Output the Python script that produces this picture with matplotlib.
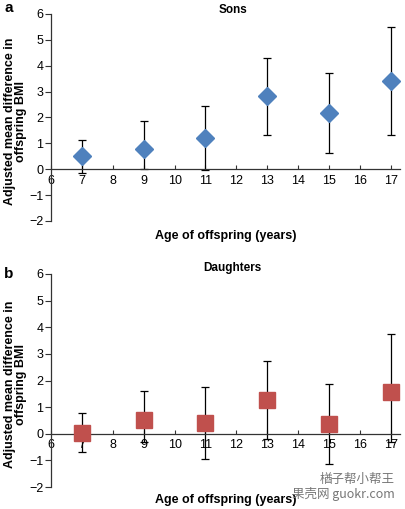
import matplotlib.pyplot as plt

plt.rcParams['font.family'] = ['Liberation Sans', 'Noto Sans CJK SC', 'DejaVu Sans']

# Data
ages = [7, 9, 11, 13, 15, 17]

sons_mean = [0.50, 0.78, 1.20, 2.82, 2.18, 3.40]
sons_low = [-0.15, 0.00, -0.02, 1.33, 0.62, 1.33]
sons_high = [1.12, 1.87, 2.45, 4.30, 3.73, 5.48]

dau_mean = [0.03, 0.53, 0.42, 1.27, 0.37, 1.58]
dau_low = [-0.70, -0.30, -0.93, -0.20, -1.12, -0.30]
dau_high = [0.77, 1.62, 1.75, 2.75, 1.87, 3.73]

x_ticks = list(range(6, 18))
y_ticks = list(range(-2, 7))

fig = plt.figure(figsize=(4.06, 5.09), dpi=100)
ax1 = fig.add_axes([0.1256, 0.566, 0.86, 0.4065])
ax2 = fig.add_axes([0.1256, 0.0432, 0.86, 0.4185])

def draw_panel(ax, mean, low, high, marker, color, msize, title, title_y, letter, letter_y, xlab_y):
    yerr = [[m - l for m, l in zip(mean, low)], [h - m for m, h in zip(mean, high)]]
    ax.errorbar(ages, mean, yerr=yerr, fmt='none', ecolor='black', elinewidth=0.9,
                capsize=2.8, capthick=0.9, zorder=2)
    ax.plot(ages, mean, linestyle='none', marker=marker, markersize=msize,
            color=color, markeredgecolor=color, zorder=3)
    ax.set_xlim(6, 17.3)
    ax.set_ylim(-2, 6)
    ax.set_xticks(x_ticks)
    ax.set_yticks(y_ticks)
    ax.spines['top'].set_visible(False)
    ax.spines['right'].set_visible(False)
    ax.spines['bottom'].set_position(('data', 0))
    for s in ['left', 'bottom']:
        ax.spines[s].set_color('#333333')
        ax.spines[s].set_linewidth(0.9)
    ax.tick_params(axis='x', direction='in', length=3, labelsize=9, pad=4, colors='#333333',
                   labelcolor='black')
    ax.tick_params(axis='y', direction='out', length=4, labelsize=9, pad=1.5, colors='#333333',
                   labelcolor='black')
    ax.text(0.52, title_y, title, transform=ax.transAxes, fontsize=8.5, fontweight='bold',
            ha='center', va='center')
    ax.set_ylabel('Adjusted mean difference in\noffspring BMI', fontsize=9,
                  fontweight='bold', linespacing=0.9)
    ax.yaxis.set_label_coords(-0.068, 0.48)
    ax.set_xlabel('Age of offspring (years)', fontsize=9, fontweight='bold')
    ax.xaxis.set_label_coords(0.5, xlab_y)
    ax.text(-0.12, letter_y, letter, transform=ax.transAxes, fontsize=11, fontweight='bold',
            va='center', ha='center')

draw_panel(ax1, sons_mean, sons_low, sons_high, 'D', '#4F81BD', 9, 'Sons', 1.019, 'a', 1.03, -0.045)
draw_panel(ax2, dau_mean, dau_low, dau_high, 's', '#C0504D', 11, 'Daughters', 1.028, 'b', 1.0, -0.035)

# watermark
fig.text(0.973, 0.052, '楢子帮小帮王', fontsize=9, color='#777777', ha='right',
         family=['Noto Sans CJK SC', 'DejaVu Sans'])
fig.text(0.973, 0.021, '果壳网 guokr.com', fontsize=9, color='#777777', ha='right',
         family=['Noto Sans CJK SC', 'DejaVu Sans'])

fig.savefig('out.png', dpi=100)
